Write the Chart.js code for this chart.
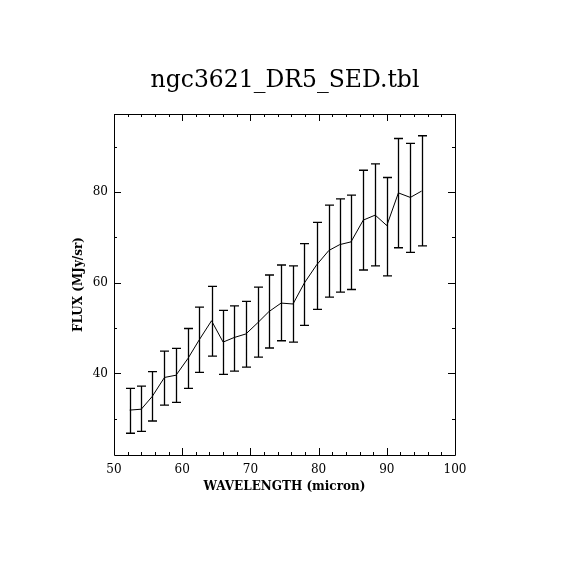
<!DOCTYPE html>
<html>
<head>
<meta charset="utf-8">
<script src="https://cdn.jsdelivr.net/npm/chart.js@4"></script>
<style>
  body { margin: 0; background: #fff; }
  #sedCanvas { display: block; }
</style>
</head>
<body>
<canvas id="sedCanvas" width="570" height="570"></canvas>
<script>
// Wavelength (micron), flux and error bar ends (MJy/sr)
const wavelength = [52.3, 54.0, 55.6, 57.4, 59.1, 60.85, 62.5, 64.3, 66.0, 67.6, 69.35, 71.1, 72.7,
  74.5, 76.25, 77.9, 79.7, 81.5, 83.1, 84.75, 86.55, 88.3, 90.0, 91.7, 93.45, 95.1];
const flux = [31.9, 32.1, 34.9, 39.1, 39.6, 43.3, 47.4, 51.6, 46.9, 47.9, 48.7, 51.2, 53.6,
  55.5, 55.3, 59.9, 63.9, 67.1, 68.4, 69.0, 73.8, 74.9, 72.6, 79.8, 78.8, 80.2];
const fluxHigh = [36.7, 37.2, 40.4, 44.9, 45.5, 49.9, 54.6, 59.2, 53.9, 54.9, 55.9, 59.0, 61.7,
  63.9, 63.7, 68.6, 73.3, 77.1, 78.5, 79.3, 84.8, 86.2, 83.2, 91.8, 90.7, 92.4];
const fluxLow = [26.8, 27.2, 29.5, 33.0, 33.6, 36.7, 40.2, 43.8, 39.8, 40.5, 41.4, 43.6, 45.6,
  47.2, 46.9, 50.6, 54.1, 56.8, 57.9, 58.5, 62.8, 63.7, 61.5, 67.7, 66.7, 68.1];

// Axis ticks
const xTicks = [50, 60, 70, 80, 90, 100];
const xMinorTicks = [52, 54, 56, 58, 62, 64, 66, 68, 72, 74, 76, 78, 82, 84, 86, 88, 92, 94, 96, 98];
const yTicks = [40, 60, 80];
const yMinorTicks = [30, 50, 70, 90];

const serif = "'DejaVu Serif', serif";

// frame, inward ticks on all four sides, and error bars
const framePlugin = {
  id: 'frame',
  afterDatasetsDraw(chart) {
    const ctx = chart.ctx;
    const area = chart.chartArea;
    const xs = chart.scales.x;
    const ys = chart.scales.y;
    ctx.save();
    ctx.strokeStyle = '#000';
    ctx.lineWidth = 1;
    ctx.beginPath();
    ctx.rect(area.left + 0.5, area.top + 0.5, area.right - area.left, area.bottom - area.top);
    ctx.stroke();

    ctx.beginPath();
    const xTick = (v, len) => {
      const px = Math.round(xs.getPixelForValue(v)) + 0.5;
      ctx.moveTo(px, area.bottom); ctx.lineTo(px, area.bottom - len);
      ctx.moveTo(px, area.top); ctx.lineTo(px, area.top + len);
    };
    const yTick = (v, len) => {
      const py = Math.round(ys.getPixelForValue(v)) + 0.5;
      ctx.moveTo(area.left, py); ctx.lineTo(area.left + len, py);
      ctx.moveTo(area.right, py); ctx.lineTo(area.right - len, py);
    };
    xTicks.forEach(v => xTick(v, 7));
    xMinorTicks.forEach(v => xTick(v, 3));
    yTicks.forEach(v => yTick(v, 7));
    yMinorTicks.forEach(v => yTick(v, 3));
    ctx.stroke();

    // error bars
    ctx.lineWidth = 1.3;
    ctx.beginPath();
    for (let i = 0; i < wavelength.length; i++) {
      const px = Math.round(xs.getPixelForValue(wavelength[i])) + 0.5;
      const top = ys.getPixelForValue(fluxHigh[i]);
      const bot = ys.getPixelForValue(fluxLow[i]);
      ctx.moveTo(px, top); ctx.lineTo(px, bot);
      ctx.moveTo(px - 4.5, top); ctx.lineTo(px + 4.5, top);
      ctx.moveTo(px - 4.5, bot); ctx.lineTo(px + 4.5, bot);
    }
    ctx.stroke();
    ctx.restore();
  }
};

const config = {
  type: 'line',
  data: {
    datasets: [{
      label: 'SED',
      data: wavelength.map((w, i) => ({ x: w, y: flux[i] })),
      borderColor: '#000',
      borderWidth: 1,
      pointRadius: 0,
      fill: false,
      tension: 0
    }]
  },
  options: {
    responsive: false,
    animation: false,
    layout: { padding: 0 },
    plugins: {
      legend: { display: false },
      tooltip: { enabled: false },
      title: {
        display: true,
        text: 'ngc3621_DR5_SED.tbl',
        color: '#000',
        font: { family: serif, size: 23.5, weight: 'normal', lineHeight: 1.2 },
        padding: { top: 67, bottom: 18.8 }
      }
    },
    scales: {
      x: {
        type: 'linear',
        min: 50,
        max: 100,
        grid: { display: false, drawTicks: false },
        border: { display: false },
        afterBuildTicks: s => { s.ticks = xTicks.map(v => ({ value: v })); },
        afterFit: s => { s.height = 115; },
        ticks: { color: '#000', padding: 8, maxRotation: 0, font: { family: serif, size: 12 } },
        title: {
          display: true,
          text: 'WAVELENGTH (micron)',
          color: '#000',
          font: { family: serif, size: 12, weight: 'bold', lineHeight: 1.2 },
          padding: { top: 0, bottom: 75.8 }
        }
      },
      y: {
        type: 'linear',
        min: 22,
        max: 97.2,
        grid: { display: false, drawTicks: false },
        border: { display: false },
        afterBuildTicks: s => { s.ticks = yTicks.map(v => ({ value: v })); },
        afterFit: s => { s.width = 114; },
        ticks: { color: '#000', padding: 6, font: { family: serif, size: 12 } },
        title: {
          display: true,
          text: 'FLUX (MJy/sr)',
          color: '#000',
          font: { family: serif, size: 12, weight: 'bold', lineHeight: 1.2 },
          padding: { top: 72, bottom: 0 }
        }
      },
      // empty right-hand axis, only to reserve the right margin
      yRight: {
        type: 'linear',
        position: 'right',
        min: 22,
        max: 97.2,
        grid: { display: false, drawTicks: false },
        border: { display: false },
        ticks: { display: false },
        afterFit: s => { s.width = 115; }
      }
    }
  },
  plugins: [framePlugin]
};

new Chart(document.getElementById('sedCanvas'), config);
</script>
</body>
</html>
